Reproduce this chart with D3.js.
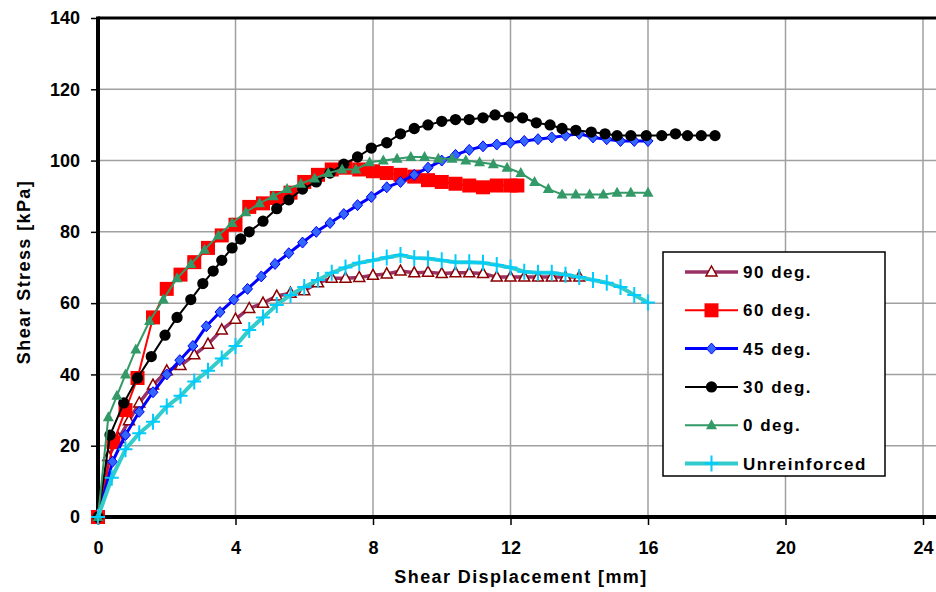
<!DOCTYPE html>
<html><head><meta charset="utf-8">
<script src="https://cdn.jsdelivr.net/npm/d3@7"></script>
<style>body{margin:0;background:#fff}svg{display:block}</style>
</head><body><svg id="c" width="936" height="592"></svg>
<script>
// ---- data ----
const xTicks = [0, 4, 8, 12, 16, 20, 24];
const yTicks = [0, 20, 40, 60, 80, 100, 120, 140];
const seriesNames = ["90 deg.", "60 deg.", "45 deg.", "30 deg.", "0 deg.", "Unreinforced"];

const x90 = [0, 0.3, 0.6, 0.9, 1.2, 1.6, 2.0, 2.4, 2.8, 3.2, 3.6, 4.0, 4.4, 4.8, 5.2, 5.6, 6.0, 6.4, 6.8, 7.2, 7.6, 8.0, 8.4, 8.8, 9.2, 9.6, 10.0, 10.4, 10.8, 11.2, 11.6, 12.0, 12.4, 12.8, 13.2, 13.6, 14.0];
const y90 = [0, 17, 22, 27, 32, 37, 41, 42.5, 45.5, 48.5, 52.5, 55.5, 58.5, 60, 62, 62.8, 63.5, 65.7, 67, 67, 67.2, 67.8, 68.2, 69, 68.5, 68.7, 68.3, 68.5, 68.5, 68.3, 67.3, 67.3, 67.3, 67.3, 67.3, 67.3, 67.3];

const x60 = [0, 0.45, 0.8, 1.15, 1.6, 2.0, 2.4, 2.8, 3.2, 3.6, 4.0, 4.4, 4.8, 5.2, 5.6, 6.0, 6.4, 6.8, 7.2, 7.6, 8.0, 8.4, 8.8, 9.2, 9.6, 10.0, 10.4, 10.8, 11.2, 11.6, 12.0, 12.2];
const y60 = [0, 21, 30, 39, 56, 64, 68, 71.5, 75.5, 79, 82, 87, 88, 89.5, 91, 94, 96, 97.5, 98, 97.5, 97, 96.5, 96, 95.5, 94.5, 94, 93.5, 93, 92.5, 93, 93, 93];

const x45 = [0, 0.42, 0.8, 1.2, 1.6, 2.0, 2.38, 2.76, 3.15, 3.55, 3.95, 4.35, 4.75, 5.15, 5.55, 5.95, 6.35, 6.75, 7.15, 7.55, 7.95, 8.4, 8.8, 9.2, 9.6, 10.0, 10.4, 10.8, 11.2, 11.6, 12.0, 12.4, 12.8, 13.2, 13.6, 14.0, 14.4, 14.8, 15.2, 15.6, 16.0];
const y45 = [0, 15.5, 23, 29.5, 35, 40, 44, 48, 53.5, 57.5, 61, 64, 67.5, 71, 74, 77, 80, 82.5, 85, 87.5, 89.8, 92.5, 94, 96, 98, 100, 101.6, 103, 104, 104.5, 105, 105.5, 106, 106.5, 107, 107.5, 106.5, 106, 105.5, 105.5, 105.5];

const x30 = [0, 0.35, 0.75, 1.15, 1.55, 1.95, 2.3, 2.7, 3.05, 3.35, 3.6, 3.9, 4.15, 4.4, 4.8, 5.2, 5.55, 5.95, 6.35, 6.75, 7.15, 7.55, 7.95, 8.4, 8.8, 9.2, 9.6, 10.0, 10.4, 10.8, 11.2, 11.55, 11.95, 12.35, 12.75, 13.15, 13.5, 13.9, 14.35, 14.75, 15.1, 15.5, 15.95, 16.4, 16.8, 17.15, 17.55, 17.95];
const y30 = [0, 23, 32, 39, 45, 51, 56, 61, 65.5, 69, 72, 75.5, 78, 80, 83, 86.5, 89, 92, 94, 96.5, 99, 101, 103.5, 105, 107.5, 109, 110, 111, 111.5, 111.5, 112, 112.8, 112.2, 112, 110.6, 110, 109, 108.5, 108, 107.5, 107, 107, 107, 107, 107.5, 107, 107, 107];

const x0 = [0, 0.3, 0.55, 0.8, 1.1, 1.5, 1.9, 2.3, 2.7, 3.1, 3.5, 3.9, 4.3, 4.7, 5.1, 5.5, 5.9, 6.3, 6.7, 7.1, 7.5, 7.9, 8.3, 8.7, 9.1, 9.5, 9.9, 10.3, 10.7, 11.1, 11.5, 11.9, 12.3, 12.7, 13.1, 13.5, 13.9, 14.3, 14.7, 15.1, 15.5, 16.0];
const y0 = [0, 28, 34, 40, 47, 55, 61, 67, 71, 75, 79, 82.5, 85.5, 88, 90, 92, 93.5, 95, 96.5, 97.5, 97.5, 99.5, 100, 100.5, 101, 101, 100.5, 100.5, 100, 99.5, 99, 98, 96.5, 94, 92, 90.5, 90.5, 90.5, 90.5, 91, 91, 91];

const xUn = [0, 0.4, 0.8, 1.2, 1.6, 2.0, 2.4, 2.8, 3.2, 3.6, 4.0, 4.4, 4.8, 5.2, 5.6, 6.0, 6.4, 6.8, 7.2, 7.6, 8.0, 8.4, 8.8, 9.2, 9.6, 10.0, 10.4, 10.8, 11.2, 11.6, 12.0, 12.4, 12.8, 13.2, 13.6, 14.0, 14.4, 14.8, 15.2, 15.6, 16.0];
const yUn = [0, 11, 19, 23.5, 26.7, 31, 34, 38, 41, 44.5, 48, 52.5, 56, 59.5, 62.3, 64.5, 66.5, 68.5, 70, 71.3, 72, 72.8, 73.5, 72.7, 72.5, 72, 71.5, 71.5, 71.3, 70.7, 70, 68.8, 68.5, 68.5, 68, 67.3, 66.5, 65.7, 64.5, 62.3, 60.2];

const seriesX = [x90, x60, x45, x30, x0, xUn];
const seriesY = [y90, y60, y45, y30, y0, yUn];

// ---- styles ----
const styles = [
  {line: "#993366", lw: 3.5, marker: "M0,-6L5.5,4L-5.5,4Z", fill: "#ffffff", stroke: "#8B0000", sw: 1.5},
  {line: "#FF0000", lw: 2, marker: "M-7,-7h14v14h-14Z", fill: "#FF0000", stroke: "#FF0000", sw: 0},
  {line: "#0000FF", lw: 3, marker: "M0,-5.5L5,0L0,5.5L-5,0Z", fill: "#3366FF", stroke: "#0000FF", sw: 1},
  {line: "#000000", lw: 2, marker: d3.symbol(d3.symbolCircle, 100)(), fill: "#000000", stroke: "#000000", sw: 0},
  {line: "#339966", lw: 2, marker: "M0,-6L5.5,4L-5.5,4Z", fill: "#339966", stroke: "#339966", sw: 0},
  {line: "#33CCCC", lw: 4, marker: "M-7,0H7M0,-8V8", fill: "none", stroke: "#00CCFF", sw: 2}
];

const svg = d3.select("#c");
const W = 936, H = 592;
const x = d3.scaleLinear().domain([0, 24]).range([98, 923]);
const y = d3.scaleLinear().domain([0, 140]).range([517, 18]);
const font = "'Liberation Sans', Arial, sans-serif";

// grid
const g = svg.append("g");
g.selectAll(".vg").data(xTicks.filter(d => d > 0)).join("line")
  .attr("x1", d => x(d)).attr("x2", d => x(d)).attr("y1", y(140)).attr("y2", y(0))
  .attr("stroke", "#a0a0a0").attr("stroke-width", 1.5);
g.selectAll(".hg").data(yTicks.filter(d => d > 0 && d < 140)).join("line")
  .attr("x1", x(0)).attr("x2", W).attr("y1", d => y(d)).attr("y2", d => y(d))
  .attr("stroke", "#a0a0a0").attr("stroke-width", 1.5);
// top border
g.append("line").attr("x1", x(0)).attr("x2", W).attr("y1", y(140)).attr("y2", y(140))
  .attr("stroke", "#000").attr("stroke-width", 3);

// axes
const xAxis = d3.axisBottom(x).tickValues(xTicks).tickSize(8).tickPadding(16).tickFormat(d3.format("d"));
const yAxis = d3.axisLeft(y).tickValues(yTicks).tickSize(7).tickPadding(11).tickFormat(d3.format("d"));
const gx = svg.append("g").attr("transform", `translate(0,${y(0)})`).call(xAxis);
const gy = svg.append("g").attr("transform", `translate(${x(0)},0)`).call(yAxis);
[gx, gy].forEach(a => {
  a.select(".domain").remove();
  a.selectAll(".tick line").attr("stroke", "#000").attr("stroke-width", 1.5);
  a.selectAll(".tick text").attr("font-family", font).attr("font-weight", "bold")
    .attr("font-size", 18).attr("fill", "#000");
});
svg.append("line").attr("x1", x(0)).attr("x2", W).attr("y1", y(0)).attr("y2", y(0))
  .attr("stroke", "#000").attr("stroke-width", 4);
svg.append("line").attr("x1", x(0)).attr("x2", x(0)).attr("y1", y(140) - 1.5).attr("y2", y(0) + 2)
  .attr("stroke", "#000").attr("stroke-width", 4);

// axis titles
svg.append("text").attr("x", 521).attr("y", 583).attr("text-anchor", "middle")
  .attr("font-family", font).attr("font-weight", "bold").attr("font-size", 18)
  .attr("letter-spacing", "1.4px").text("Shear Displacement [mm]");
svg.append("text").attr("transform", "translate(30,272) rotate(-90)").attr("text-anchor", "middle")
  .attr("font-family", font).attr("font-weight", "bold").attr("font-size", 18)
  .attr("letter-spacing", "1.4px").text("Shear Stress [kPa]");

// series
const lineGen = d3.line().x(d => x(d[0])).y(d => y(d[1]));
seriesNames.forEach((name, i) => {
  const s = styles[i];
  const pts = seriesX[i].map((v, k) => [v, seriesY[i][k]]);
  const sg = svg.append("g");
  sg.append("path").attr("d", lineGen(pts)).attr("fill", "none")
    .attr("stroke", s.line).attr("stroke-width", s.lw).attr("stroke-linejoin", "round");
  sg.selectAll("path.m").data(pts).join("path").attr("class", "m")
    .attr("transform", d => `translate(${x(d[0])},${y(d[1])})`)
    .attr("d", s.marker).attr("fill", s.fill).attr("stroke", s.stroke).attr("stroke-width", s.sw);
});

// legend
const lg = svg.append("g");
lg.append("rect").attr("x", 663).attr("y", 252).attr("width", 222).attr("height", 224)
  .attr("fill", "#fff").attr("stroke", "#000").attr("stroke-width", 1.5);
seriesNames.forEach((name, i) => {
  const s = styles[i];
  const cy = 272 + i * 38.3;
  lg.append("line").attr("x1", 685).attr("x2", 738).attr("y1", cy).attr("y2", cy)
    .attr("stroke", s.line).attr("stroke-width", s.lw);
  lg.append("path").attr("transform", `translate(711.5,${cy})`).attr("d", s.marker)
    .attr("fill", s.fill).attr("stroke", s.stroke).attr("stroke-width", s.sw);
  lg.append("text").attr("x", 743).attr("y", cy + 6).attr("font-family", font)
    .attr("font-weight", "bold").attr("font-size", 17).attr("letter-spacing", "1.5px")
    .text(name);
});
</script>
</body></html>
